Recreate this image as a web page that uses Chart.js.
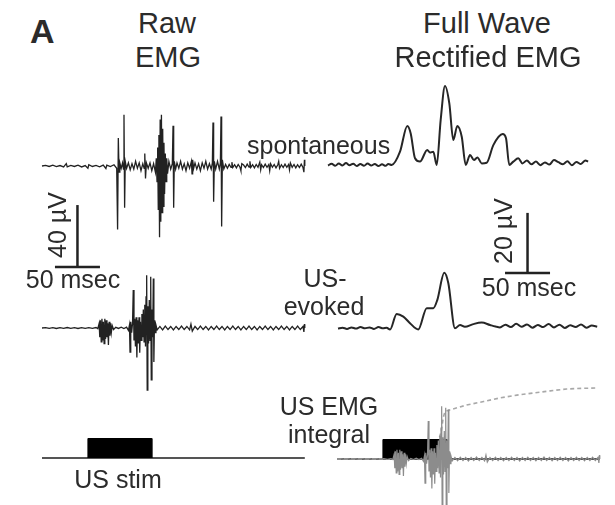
<!DOCTYPE html>
<html><head><meta charset="utf-8">
<script src="https://cdn.jsdelivr.net/npm/chart.js@4.4.1/dist/chart.umd.min.js"></script>
<style>
html,body{margin:0;padding:0;background:#fff;}
#fig{position:relative;width:615px;height:505px;overflow:hidden;font-family:"Liberation Sans",Arial,Helvetica,sans-serif;color:#2b2b2b;}
.panel{position:absolute;}
.lbl{position:absolute;white-space:nowrap;line-height:1;}
</style></head><body><div id="fig"></div>
<script>
// ===== DATA (time in ms, amplitude in µV) =====
// Raw EMG, spontaneous activity
const rawSpontaneous = [[0,0],[4,0.4],[8,-0.3],[12,0.5],[16,-0.4],[20,0.3],[24,-0.6],[27,1.5],[28,-0.5],[32,0.4],[36,-0.3],[40,0.5],[44,-0.6],[48,0.3],[51,-1.5],[52,0.8],[56,-0.3],[60,0.4],[64,-0.5],[68,0.6],[71,-1.6],[72,0.6],[76,-0.4],[80,0.8],[83,-1.5],
[84,-41],[84.8,18],[85.6,-4],[86.5,2],[88,-1.5],[89.5,2],[90.5,-2],[91.1,33],[91.8,-27],[92.5,3],[94,-1.5],
[96,2],[98,-2.5],[100,1.5],[102,-2],[104,3],[106,-1.5],[108,2],[110,-3],[112,1.5],[113.5,-1.5],[114.2,8],[115,-8],[116,2],[118,-1.5],[120,2],[122,-3],[124,1.5],[126,-4],
[127,5],[127.8,-10],[128.5,12],[129.2,-28],[129.9,20],[130.6,-46],[131.3,30],[132,-36],[132.7,33],[133.4,-30],[134.1,24],[134.8,-26],[135.5,15],[136.2,-18],[137,8],[137.8,-10],[138.6,5],[139.5,-5],[141,3],[143,-2],
[144.8,1.5],[145.6,26],[146.3,-27],[147,3],[148.5,-2],[150,2],[152,-1.5],[154,3],[156,-2],[158,1.5],[160,-3],[162,2],[164,-1.5],[166,3],[166.7,-5],[167.4,4],[168.5,-1.5],[170,2],[172,-2],[174,1.5],[176,-3],[178,2],[180,-1.5],[182,3],[184,-2],[186,1.5],[188,-2],
[189.3,2],[190,28],[190.7,-23],[191.5,3],[193,-2],[195,3],[197,-2],[198.2,2],[198.9,32],[199.6,-39],[200.4,4],[202,-2],
[204,1],[206,-1.5],[208,1],[210,-0.8],[211,2.5],[212,-1],[214,0.8],[216,-1.2],[218,1],[220,-0.8],[221,-3],[222,1.5],[224,0.6],[226,-1],[228,1.2],[230,-0.7],[231,3],[232,-1],[234,0.8],[236,-1.2],[238,1],[240,-0.8],[242,2.5],[243,-2.5],[244,0.8],[246,-1],[248,1.2],[250,-0.8],[252,1],[253,-3],[254,1.5],[256,-0.8],[258,1],[260,-1.2],[262,0.8],[263,3],[264,-1.5],[266,0.8],[268,-1],[270,1.2],[272,-0.8],[274,1],[275,-2.5],[276,2],[278,-0.8],[280,1],[282,-1.2],[284,0.8],[286,-1],[288,1.2],[290,-1],[291,-4],[291.6,4],[292,0]];

// Raw EMG, ultrasound-evoked
const rawEvoked = [[0,0],[4,0.2],[8,-0.2],[12,0.2],[16,-0.3],[20,0.2],[24,-0.2],[28,0.3],[32,-0.2],[36,0.2],[40,-0.3],[44,0.2],[48,-0.2],[52,0.2],[56,-0.2],[60,0.3],[62,-0.4],
[63.5,3],[64.2,-6],[65,5],[65.8,-9],[66.6,6],[67.4,-8],[68.2,4],[69,-10],[69.8,6],[70.6,-7],[71.4,5],[72.2,-6],[73,3],[73.8,-11],[74.6,4],[75.4,-5],[76.2,3],[77,-3],[78,1.5],[79.5,-1],
[82,0.4],[85,-0.3],[88,0.5],[91,-0.4],[94,0.5],[96,-1.5],
[97.2,2],[97.8,-15.5],[98.6,4],[99.6,-3],[100.6,3],[101.4,24.5],[102.2,-8],[103,6],[103.8,-12],[104.6,7],[105.4,-19],[106.2,5],[107,-10],[107.8,7],[108.6,-16],[109.4,4],[110.2,-8],[111,9],[111.8,-6],[112.6,12],[113.4,-9],[114.2,15],[115,-12],[115.6,20],[116.3,34],[116.9,-40],[117.6,14],[118.4,-10],[119.2,18],[120,-8],[120.8,33],[121.4,-33.5],[122.2,12],[123,-6],[123.7,32],[124.3,-22],[125,5],[125.8,-3],[126.6,2],
[128,-1.2],[131,1],[134,-1.2],[137,1.2],[140,-1],[143,1],[146,-1.3],[149,1],[152,-1],[155,1.3],[158,-1],[161,1],[164,-1.2],[165.5,2.5],[167,-2],[170,1],[173,-1],[176,1.2],[179,-1],[182,1],[185,-1.2],[188,1],[191,-1],[194,1.2],[197,-1],[200,1],[203,-1.3],[206,1],[209,-1],[212,1.2],[215,-1],[218,1],[221,-1.2],[224,1],[227,-1],[230,1.3],[233,-1],[236,1],[239,-1.2],[242,1],[245,-1],[248,1.2],[251,-1],[254,1],[257,-1.3],[260,1],[263,-1],[266,1.2],[269,-1],[272,1],[275,-1.2],[278,1],[281,-1],[284,1.2],[287,-1],[290,1],[291,-2.5],[291.6,2.5],[292,0]];

// Full wave rectified EMG, spontaneous
const rectSpontaneous = [[0,0.5],[4,1.1],[8,0.4],[12,1.2],[16,0.5],[20,1.3],[24,0.6],[28,1.1],[32,0.3],[36,1.0],[40,0.4],[44,1.2],[48,0.5],[52,1.0],[56,0.3],[60,0.9],[64,0.4],[67,1.0],[70.8,0.7],[80,5.1],[88.1,13.7],[91.9,11.2],[96.7,2.9],[102.2,1.8],[110.3,5.7],[113.3,4.8],[117,5.1],[120.8,0.7],[125.2,15.7],[130,27],[134.8,21.2],[139.2,9],[143.7,13.7],[148.6,10.1],[153,0.7],[157.8,4],[162.2,2.3],[166,3.2],[170.8,1.2],[176.3,1.4],[183.7,7.3],[194.1,11],[197.8,9.6],[201.4,0.7],[205.9,1.8],[211.4,2.9],[216,1.2],[221,2.2],[226,0.9],[231,1.8],[236,0.6],[241,1.5],[246,0.8],[251,2.3],[256,1.6],[261,0.9],[266,1.9],[271,0.6],[276,1.7],[281,1.0],[286,2.2],[289,1.8]];

// Full wave rectified EMG, ultrasound-evoked
const rectEvoked = [[0,0.3],[5,0.6],[10,0.2],[15,0.7],[20,0.3],[25,0.8],[30,0.4],[35,0.7],[40,0.2],[45,0.8],[50,0.4],[54,0.6],[57.8,0],[65.2,5.2],[72.6,4.3],[80,2.1],[89.2,0],[98.6,7.1],[105.9,7.1],[110.3,9.8],[118.1,18.9],[122.6,15.4],[130,0.4],[135.6,1.5],[141,0.9],[150.3,1.8],[159.7,2.3],[168.9,1.5],[175,1.0],[180,0.7],[186,1.6],[192,0.8],[198,1.9],[204,0.9],[210,1.7],[216,0.6],[222,1.5],[228,0.8],[234,1.8],[240,0.7],[246,1.6],[252,0.5],[258,1.4],[264,0.8],[270,1.7],[276,0.6],[282,1.3],[288,0.9]];

// Ultrasound stimulus (on/off) and record length
const stimOnOff = [51, 122];          // ms
const recordEnd = 292;                // ms
// EMG integral (% of final value)
const emgIntegral = [[0,0],[60,0],[64,0.5],[78,4],[97,6],[100,12],[105,15],[112,22],[116,40],[118,58],[120,67],[125,69],[144,76],[163,81],[181,86],[200,90],[218.5,93],[237,96],[255,98.6],[272,99.5],[288.5,100]];
// Scale bars
const rawScaleBar = {uV: 40, ms: 50};
const rectScaleBar = {uV: 20, ms: 50};

// ===== LAYOUT =====
const fig = document.getElementById('fig');
const INK = '#222';
const MS_PX = 0.9;        // px per ms
const RAW_UV_PX = 1.55;   // px per µV (raw)
const RECT_UV_PX = 3.0;   // px per µV (rectified)
const STIM_PX = 19.5;     // px per stim unit
const INT_PX = 0.71;      // px per % integral

function xr(zeroPx, left, width){ return {min:(left-zeroPx)/MS_PX, max:(left+width-zeroPx)/MS_PX}; }
function yr(ppu, zeroPx, top, height){ return {min:(zeroPx-(top+height))/ppu, max:(zeroPx-top)/ppu}; }
const pts = arr => arr.map(p => ({x:p[0], y:p[1]}));
function line(data, color, width, extra){
  return Object.assign({data:pts(data), borderColor:color, borderWidth:width, pointRadius:0, tension:0, fill:false, clip:false, borderJoinStyle:'miter'}, extra||{});
}
const stimBlock = [[stimOnOff[0],0],[stimOnOff[0],1],[stimOnOff[1],1],[stimOnOff[1],0]];
const zeroLine = [[0,0],[recordEnd,0]];
function scaleBarData(bar, t0, v0){
  return [[[t0,v0],[t0+bar.ms,v0]], [[t0+bar.ms/2,v0],[t0+bar.ms/2,v0+bar.uV]]];
}

function panel(box, scales, datasets){
  const d = document.createElement('div'); d.className='panel';
  Object.assign(d.style,{left:box.left+'px',top:box.top+'px',width:box.width+'px',height:box.height+'px'});
  const c = document.createElement('canvas'); d.appendChild(c); fig.appendChild(d);
  const sc = {};
  for (const k in scales) sc[k] = Object.assign({type:'linear', display:false}, scales[k]);
  return new Chart(c, {type:'line', data:{datasets}, options:{responsive:true, maintainAspectRatio:false, animation:false, events:[], layout:{padding:0}, plugins:{legend:{display:false}, tooltip:{enabled:false}}, scales:sc}});
}
const smooth = {cubicInterpolationMode:'monotone', borderJoinStyle:'round'};

// Raw spontaneous + raw scale bar
{
  const box = {left:40, top:95, width:268, height:200};
  const bar = scaleBarData(rawScaleBar, 14.4, -65.2);
  panel(box, {x:xr(42, box.left, box.width), y:yr(RAW_UV_PX, 166, box.top, box.height)}, [
    line(rawSpontaneous, INK, 1.3),
    line(bar[0], INK, 2.5), line(bar[1], INK, 2.5)
  ]);
}
// Raw evoked
{
  const box = {left:40, top:255, width:268, height:150};
  panel(box, {x:xr(42, box.left, box.width), y:yr(RAW_UV_PX, 328, box.top, box.height)}, [
    line(rawEvoked, INK, 1.3)
  ]);
}
// US stim
{
  const box = {left:40, top:425, width:268, height:45};
  panel(box, {x:xr(42, box.left, box.width), y:yr(STIM_PX, 458, box.top, box.height)}, [
    line(stimBlock, '#000', 1, {fill:'origin', backgroundColor:'#000'}),
    line(zeroLine, '#555', 2)
  ]);
}
// Rectified spontaneous + scale bar
{
  const box = {left:320, top:70, width:290, height:225};
  const bar = scaleBarData(rectScaleBar, 196.7, -35.3);
  panel(box, {x:xr(328, box.left, box.width), y:yr(RECT_UV_PX, 167, box.top, box.height)}, [
    line(rectSpontaneous, '#262626', 2, smooth),
    line(bar[0], INK, 2.5), line(bar[1], INK, 2.5)
  ]);
}
// Rectified evoked
{
  const box = {left:330, top:255, width:280, height:95};
  panel(box, {x:xr(338, box.left, box.width), y:yr(RECT_UV_PX, 329.5, box.top, box.height)}, [
    line(rectEvoked, '#262626', 2, smooth)
  ]);
}
// US EMG integral
{
  const box = {left:330, top:370, width:285, height:135};
  panel(box, {
    x:xr(337, box.left, box.width),
    y:yr(RAW_UV_PX, 459, box.top, box.height),
    ys:yr(STIM_PX, 459, box.top, box.height),
    yi:yr(INT_PX, 459, box.top, box.height)
  }, [
    line(rawEvoked, '#8c8c8c', 1.2, {yAxisID:'y'}),
    line(stimBlock, '#000', 1, {fill:'origin', backgroundColor:'#000', yAxisID:'ys'}),
    line(emgIntegral, '#a8a8a8', 1.6, {borderDash:[4,3], yAxisID:'yi'}),
    line(zeroLine, '#555', 2, {yAxisID:'ys'})
  ]);
}

// ===== TEXT =====
const labels = [
  {t:'A', x:30, y:43, s:34, b:true, a:'left'},
  {t:'Raw', x:167, y:34, s:29},
  {t:'EMG', x:168, y:68, s:29},
  {t:'Full Wave', x:487, y:34, s:29},
  {t:'Rectified EMG', x:488, y:68, s:29},
  {t:'spontaneous', x:247, y:154, s:25, a:'left'},
  {t:'40 µV', x:57, y:225, s:25, r:true},
  {t:'50 msec', x:73, y:288, s:25},
  {t:'US-', x:325, y:287, s:25},
  {t:'evoked', x:324, y:315, s:25},
  {t:'20 µV', x:503, y:231, s:25, r:true},
  {t:'50 msec', x:529, y:296, s:25},
  {t:'US EMG', x:329, y:415, s:25},
  {t:'integral', x:329, y:443, s:25},
  {t:'US stim', x:118, y:488, s:25}
];
for (const L of labels){
  const d = document.createElement('div'); d.className='lbl'; d.textContent = L.t;
  d.style.fontSize = L.s+'px';
  if (L.b) d.style.fontWeight = 'bold';
  d.style.left = L.x+'px';
  if (L.r){
    d.style.top = L.y+'px';
    d.style.transform = 'translate(-50%,-50%) rotate(-90deg)';
  } else {
    d.style.top = (L.y - 0.8465*L.s)+'px';
    if (L.a !== 'left') d.style.transform = 'translateX(-50%)';
  }
  fig.appendChild(d);
}
</script></body></html>
